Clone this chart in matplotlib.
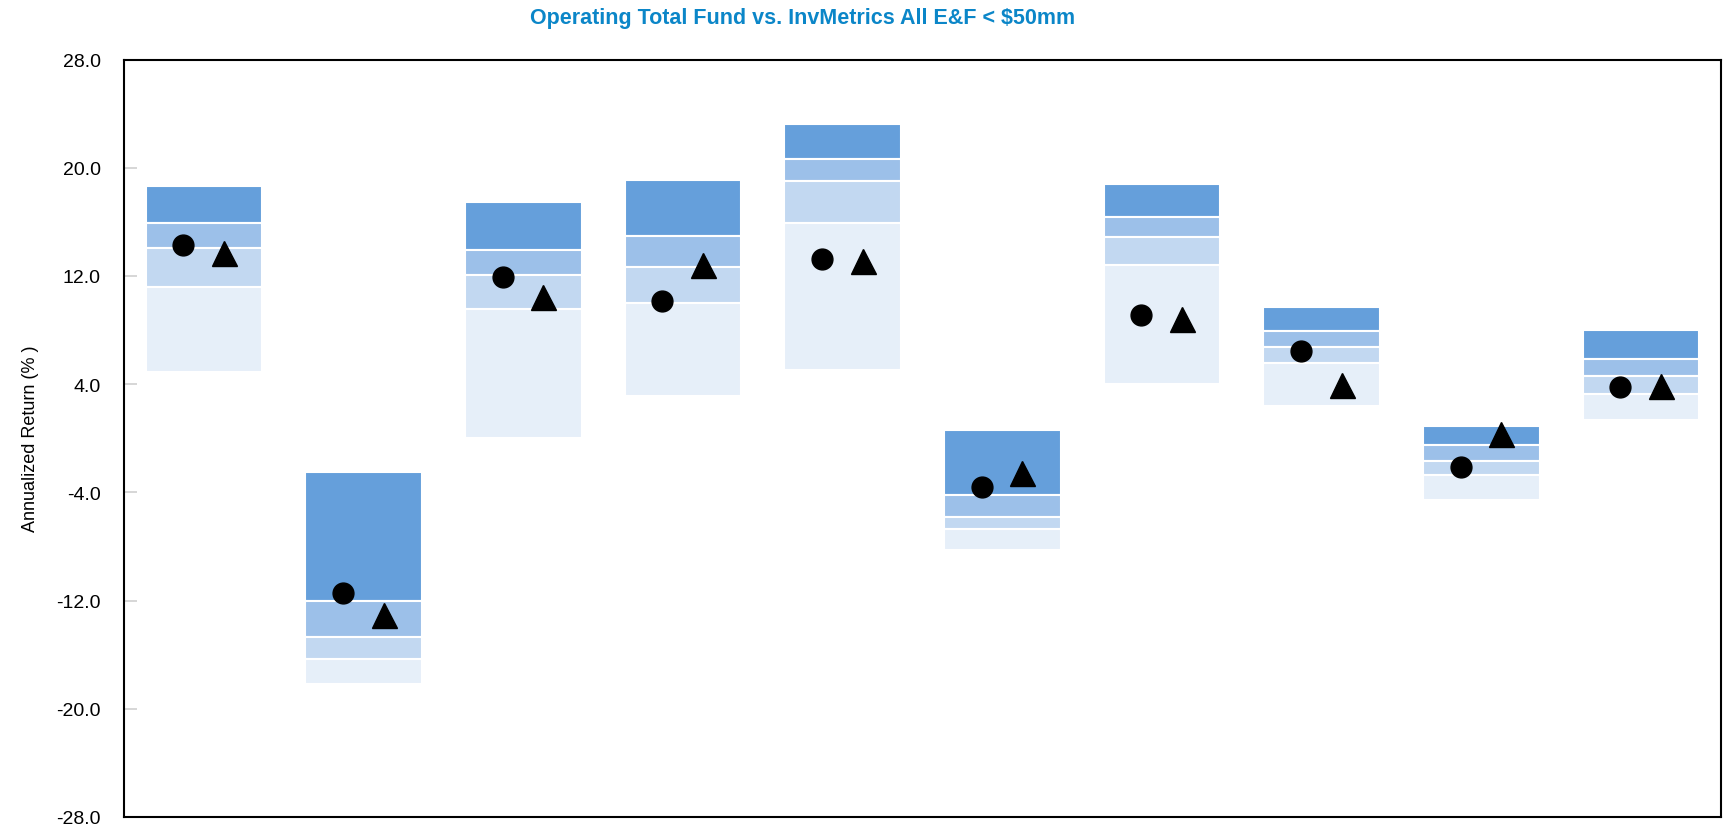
import matplotlib.pyplot as plt
import numpy as np

# percentile bands per period (95th, 75th, median, 25th, 5th)
p95 = [18.66, -2.53, 17.44, 19.09, 23.23, 0.59, 18.80, 9.73, 0.91, 8.00]
p75 = [15.88, -12.04, 13.94, 14.97, 20.62, -4.20, 16.33, 7.91, -0.50, 5.86]
p50 = [14.09, -14.69, 12.05, 12.64, 19.00, -5.82, 14.85, 6.72, -1.71, 4.62]
p25 = [11.17, -16.29, 9.53, 9.98, 15.89, -6.71, 12.78, 5.54, -2.74, 3.29]
p05 = [4.92, -18.16, 0.00, 3.12, 5.02, -8.26, 4.01, 2.38, -4.57, 1.38]

fund = [14.28, -11.44, 11.89, 10.12, 13.23, -3.63, 9.11, 6.45, -2.15, 3.76]
policy = [13.68, -13.08, 10.41, 12.78, 13.08, -2.57, 8.81, 3.94, 0.29, 3.88]

yticks = [28, 20, 12, 4, -4, -12, -20, -28]

colors = ['#659FDB', '#9CC0E9', '#C2D8F1', '#E6EFF9']

plt.rcParams['font.family'] = ['Liberation Sans', 'DejaVu Sans']

fig = plt.figure(figsize=(17.26, 8.29), dpi=100)
ax = fig.add_axes([0.072, 0.0133, 0.925, 0.9137])

x = np.arange(len(p95))
w = 0.73
bands = [(p95, p75), (p75, p50), (p50, p25), (p25, p05)]
for (hi, lo), c in zip(bands, colors):
    hi = np.array(hi)
    lo = np.array(lo)
    ax.bar(x, hi - lo, bottom=lo, width=w, color=c, edgecolor='white', linewidth=1.5)

ax.plot(x - 0.13, fund, 'o', color='black', markersize=15, linestyle='none')
ax.plot(x + 0.125, policy, '^', color='black', markersize=18, linestyle='none')

ax.set_xlim(-0.5, len(p95) - 0.5)
ax.set_ylim(-28, 28)
ax.set_yticks(yticks)
ax.set_yticklabels(['%.1f' % t for t in yticks], fontsize=14)
ax.tick_params(axis='y', direction='in', length=9, color='#d0d0d0', width=1.2, pad=17)
ax.set_xticks([])
for s in ax.spines.values():
    s.set_color('black')
    s.set_linewidth(1.5)

ax.set_ylabel('Annualized Return (% )', fontsize=13, labelpad=12)
fig.text(0.465, 0.978, 'Operating Total Fund vs. InvMetrics All E&F < $50mm',
         ha='center', va='center', fontsize=15.5, fontweight='bold', color='#0B86C8')

plt.savefig('out.png', dpi=100)
